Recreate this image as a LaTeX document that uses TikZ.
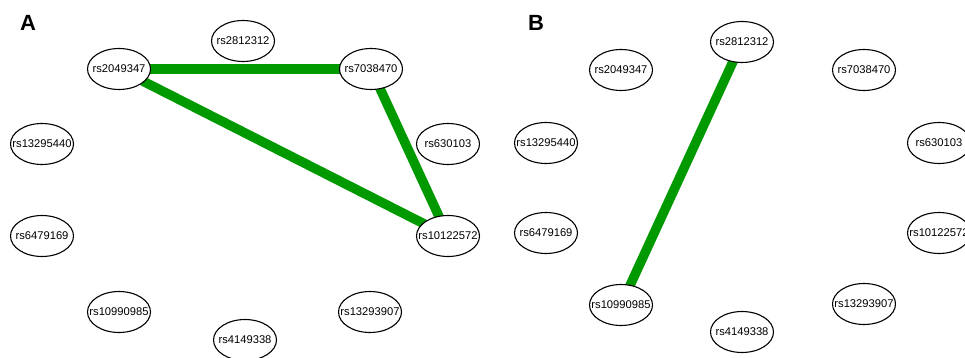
\documentclass[tikz,border=0pt]{standalone}
\usepackage{fontspec}
\setmainfont{Liberation Sans}
\usetikzlibrary{shapes.geometric,backgrounds}
\definecolor{ldgreen}{RGB}{0,153,0}
\tikzset{
  snp/.style={ellipse, draw=black, line width=1.1pt, fill=white,
    minimum width=63pt, minimum height=41pt, inner sep=0pt,
    font=\fontsize{11.2}{13}\selectfont},
  ld/.style={draw=ldgreen, line width=9.5pt},
  panel/.style={anchor=base west, inner sep=0pt, font=\fontsize{22}{24}\selectfont\bfseries}
}
\newcommand{\snplabel}[1]{\makebox[0pt]{#1}}
\begin{document}
\begin{tikzpicture}[x=1pt,y=-1pt]
  \useasboundingbox (0,0) rectangle (965,358);

  % panel titles
  \node[panel] (titleA) at (20,31) {A};
  \node[panel] (titleB) at (528,31) {B};

  % panel A: SNPs on a ring
  \node[snp] (a2812312)  at (243,41)  {\snplabel{rs2812312}};
  \node[snp] (a2049347)  at (119,69)  {\snplabel{rs2049347}};
  \node[snp] (a7038470)  at (371,69)  {\snplabel{rs7038470}};
  \node[snp] (a13295440) at (42,144)  {\snplabel{rs13295440}};
  \node[snp] (a630103)   at (448,144) {\snplabel{rs630103}};
  \node[snp] (a6479169)  at (42,236)  {\snplabel{rs6479169}};
  \node[snp] (a10122572) at (448,236) {\snplabel{rs10122572}};
  \node[snp] (a10990985) at (119,312) {\snplabel{rs10990985}};
  \node[snp] (a13293907) at (370,312) {\snplabel{rs13293907}};
  \node[snp] (a4149338)  at (245,340) {\snplabel{rs4149338}};

  % panel B: same SNPs
  \node[snp] (b2812312)  at (742,42)  {\snplabel{rs2812312}};
  \node[snp] (b2049347)  at (621,70)  {\snplabel{rs2049347}};
  \node[snp] (b7038470)  at (864,70)  {\snplabel{rs7038470}};
  \node[snp] (b13295440) at (546,143) {\snplabel{rs13295440}};
  \node[snp] (b630103)   at (939,143) {\snplabel{rs630103}};
  \node[snp] (b6479169)  at (546,233) {\snplabel{rs6479169}};
  \node[snp] (b10122572) at (939,233) {\snplabel{rs10122572}};
  \node[snp] (b10990985) at (621,305) {\snplabel{rs10990985}};
  \node[snp] (b13293907) at (864,304) {\snplabel{rs13293907}};
  \node[snp] (b4149338)  at (742,332) {\snplabel{rs4149338}};

  % LD links, drawn beneath the ellipses
  \begin{pgfonlayer}{background}
    \draw[ld] (a2049347.center) -- (a7038470.center);
    \draw[ld] (a2049347.center) -- (a10122572.center);
    \draw[ld] (a7038470.center) -- (a10122572.center);
    \draw[ld] (b2812312.center) -- (b10990985.center);
  \end{pgfonlayer}
\end{tikzpicture}
\end{document}
